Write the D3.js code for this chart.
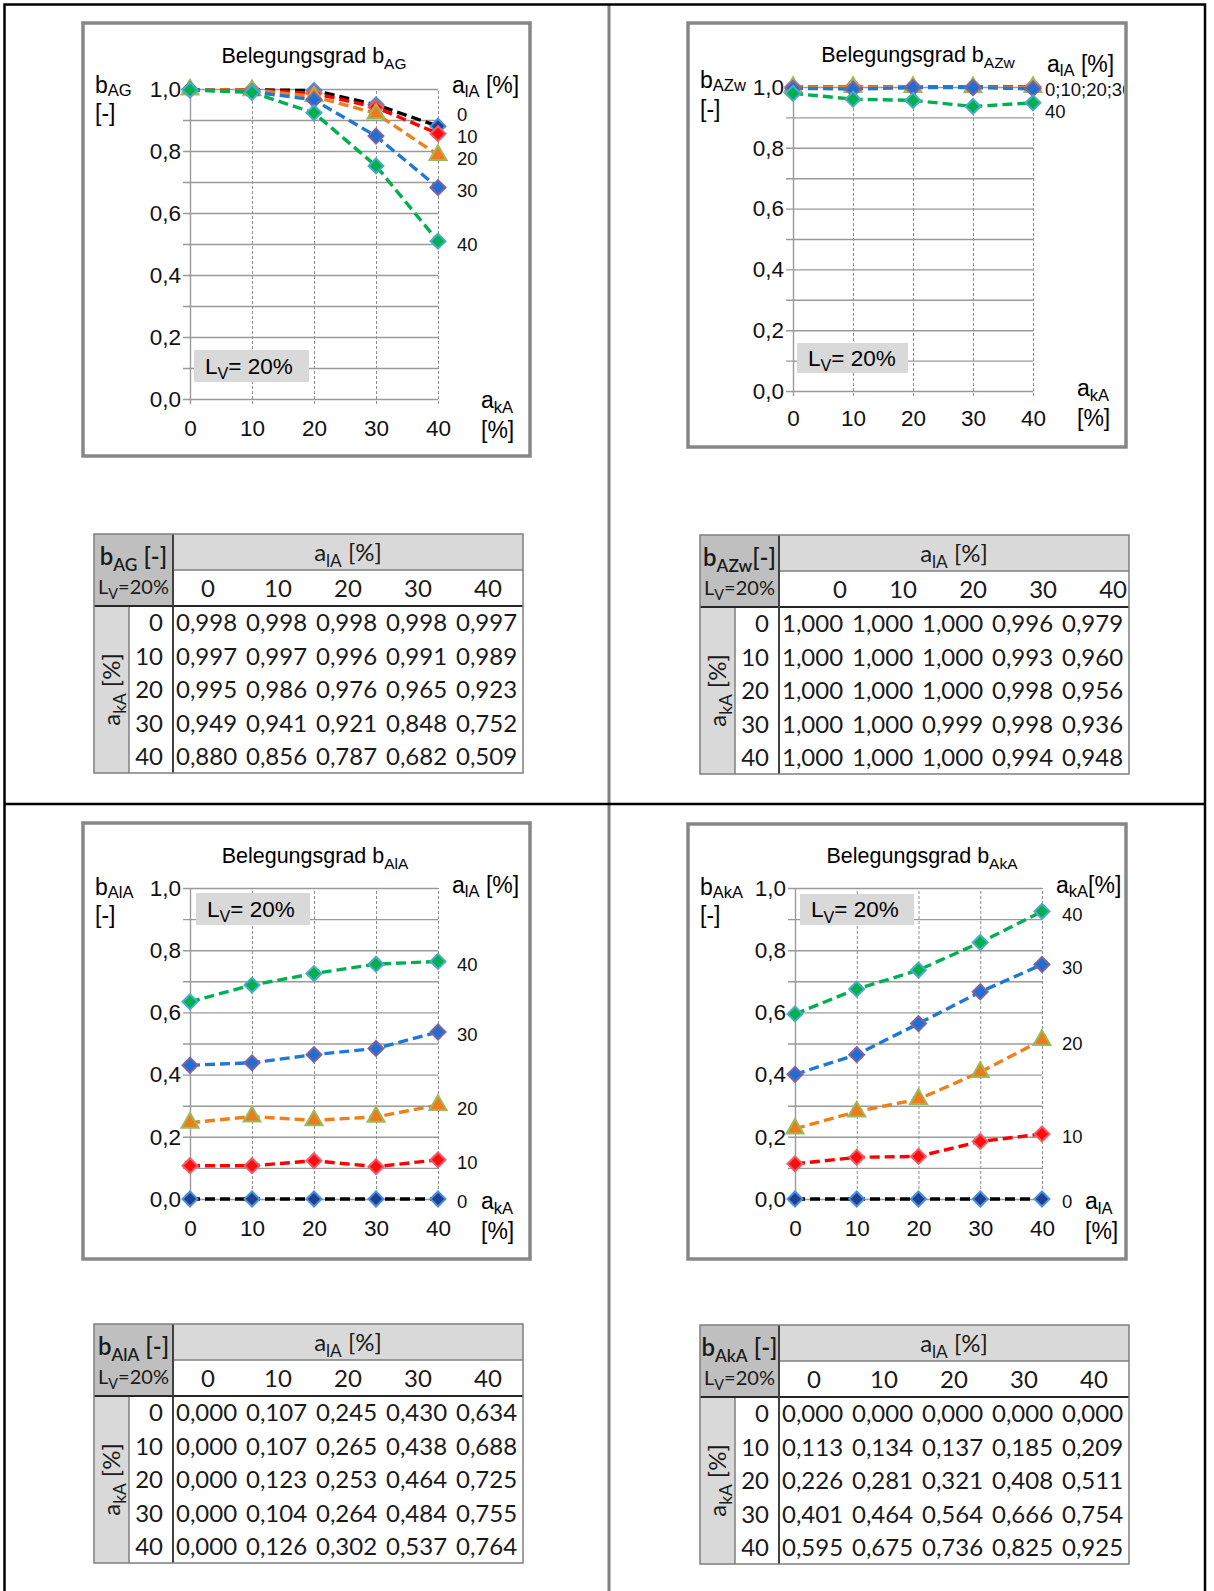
<!DOCTYPE html>
<html>
<head>
<meta charset="utf-8">
<script src="https://cdn.jsdelivr.net/npm/d3@7"></script>
<style>
  html, body { margin: 0; padding: 0; background: #fff; }
  svg { display: block; }
</style>
</head>
<body>
<svg id="page" width="1214" height="1591"></svg>
<script>
// Anteilswerte a (in %) – used for both axes and as table headers
const levels = [0, 10, 20, 30, 40];
const yTicks = [0, 0.2, 0.4, 0.6, 0.8, 1.0];
const yGrid = [0, 0.1, 0.2, 0.3, 0.4, 0.5, 0.6, 0.7, 0.8, 0.9, 1.0];

// Belegungsgrade, rows = a_kA, columns = a_lA (L_V = 20 %)
const bAG = [
  [0.998, 0.998, 0.998, 0.998, 0.997],
  [0.997, 0.997, 0.996, 0.991, 0.989],
  [0.995, 0.986, 0.976, 0.965, 0.923],
  [0.949, 0.941, 0.921, 0.848, 0.752],
  [0.880, 0.856, 0.787, 0.682, 0.509]
];
const bAZw = [
  [1.000, 1.000, 1.000, 0.996, 0.979],
  [1.000, 1.000, 1.000, 0.993, 0.960],
  [1.000, 1.000, 1.000, 0.998, 0.956],
  [1.000, 1.000, 0.999, 0.998, 0.936],
  [1.000, 1.000, 1.000, 0.994, 0.948]
];
const bAlA = [
  [0.000, 0.107, 0.245, 0.430, 0.634],
  [0.000, 0.107, 0.265, 0.438, 0.688],
  [0.000, 0.123, 0.253, 0.464, 0.725],
  [0.000, 0.104, 0.264, 0.484, 0.755],
  [0.000, 0.126, 0.302, 0.537, 0.764]
];
const bAkA = [
  [0.000, 0.000, 0.000, 0.000, 0.000],
  [0.113, 0.134, 0.137, 0.185, 0.209],
  [0.226, 0.281, 0.321, 0.408, 0.511],
  [0.401, 0.464, 0.564, 0.666, 0.754],
  [0.595, 0.675, 0.736, 0.825, 0.925]
];

// one style per series (a = 0, 10, 20, 30, 40 %)
const seriesStyle = [
  { line: "#000000", fill: "#1f3f95", stroke: "#4a90d9", shape: "diamond" },
  { line: "#ff0000", fill: "#ff0d0d", stroke: "#e8606a", shape: "diamond" },
  { line: "#f07f1a", fill: "#ee7a1c", stroke: "#9bbb59", shape: "triangle" },
  { line: "#1f78d6", fill: "#1f6fd2", stroke: "#8064a2", shape: "diamond" },
  { line: "#00b050", fill: "#00b050", stroke: "#4bacc6", shape: "diamond" }
];

const CHART_FONT = "'Liberation Sans', Arial, Helvetica, sans-serif";
const TABLE_FONT = "Lato, 'Open Sans', sans-serif";
const fmt3 = v => d3.format(".3f")(v).replace(".", ",");
const fmt1 = v => d3.format(".1f")(v).replace(".", ",");

const svg = d3.select("#page");

// text with subscripts: parts are strings or [subscriptString]
function rich(parent, x, y, parts, size, opts = {}) {
  const t = parent.append("text")
    .attr("x", x).attr("y", y)
    .attr("font-size", size)
    .attr("font-family", opts.family || CHART_FONT)
    .attr("text-anchor", opts.anchor || "start")
    .attr("fill", opts.fill || "#000");
  if (opts.weight) t.attr("font-weight", opts.weight);
  const lower = opts.subShift != null ? opts.subShift : 0.26;
  let shift = 0;
  parts.forEach(p => {
    const isSub = Array.isArray(p);
    const target = isSub ? size * lower : 0;
    const ts = t.append("tspan").text(isSub ? p[0] : p).attr("dy", target - shift);
    if (isSub) ts.attr("font-size", size * 0.72);
    shift = target;
  });
  return t;
}

// page frame
svg.append("rect").attr("width", 1214).attr("height", 1591).attr("fill", "#fff");
svg.append("line").attr("x1", 609).attr("x2", 609).attr("y1", 4).attr("y2", 1591)
  .attr("stroke", "#808080").attr("stroke-width", 3);
svg.append("line").attr("x1", 4).attr("x2", 1205).attr("y1", 804).attr("y2", 804)
  .attr("stroke", "#000").attr("stroke-width", 2.5);
svg.append("rect").attr("x", 4.5).attr("y", 4.5).attr("width", 1200.5).attr("height", 1700)
  .attr("fill", "none").attr("stroke", "#000").attr("stroke-width", 2.5);

const charts = [
  { id: "ag", matrix: bAG, byRow: false, sym: "AG", legSym: "lA", xSym: "kA",
    box: [83, 23, 530, 456], x0: 190, x1: 438, yTop: 89, yBot: 399, xPad: 22,
    titleX: 314, titleY: 63, yLabX: 95, yLabY: [93, 121], legX: 452, legY: 93, legSep: " [%]",
    endX: 457, groups: [[0], [1], [2], [3], [4]],
    xLabX: 481, xLabY: [408, 438], lv: [194, 350, 115, 32] },
  { id: "azw", matrix: bAZw, byRow: false, sym: "AZw", legSym: "lA", xSym: "kA",
    box: [688, 23, 1126, 447], x0: 793, x1: 1033, yTop: 87, yBot: 391, xPad: 20,
    titleX: 918, titleY: 62, yLabX: 700, yLabY: [88, 117], legX: 1047, legY: 72, legSep: " [%]",
    endX: 1045, groups: [[0, 1, 2, 3], [4]],
    xLabX: 1077, xLabY: [396, 426], lv: [797, 343, 111, 30] },
  { id: "ala", matrix: bAlA, byRow: false, sym: "AlA", legSym: "lA", xSym: "kA",
    box: [83, 823, 530, 1259], x0: 190, x1: 438, yTop: 888, yBot: 1199, xPad: 22,
    titleX: 315, titleY: 863, yLabX: 95, yLabY: [895, 923], legX: 452, legY: 893, legSep: " [%]",
    endX: 457, groups: [[0], [1], [2], [3], [4]],
    xLabX: 481, xLabY: [1209, 1239], lv: [196, 893, 114, 32] },
  { id: "aka", matrix: bAkA, byRow: true, sym: "AkA", legSym: "kA", xSym: "lA",
    box: [688, 824, 1126, 1259], x0: 795, x1: 1042, yTop: 888, yBot: 1199, xPad: 22,
    titleX: 922, titleY: 863, yLabX: 700, yLabY: [895, 923], legX: 1056, legY: 893, legSep: "[%]",
    endX: 1062, groups: [[0], [1], [2], [3], [4]],
    xLabX: 1085, xLabY: [1209, 1239], lv: [800, 894, 114, 31] }
];

function seriesValues(c, k) {
  return c.byRow ? c.matrix[k] : c.matrix.map(r => r[k]);
}

function placeLabels(items, yMin, gap) {
  const s = items.slice().sort((a, b) => b.y - a.y);
  for (let i = 1; i < s.length; i++) if (s[i - 1].y - s[i].y < gap) s[i].y = s[i - 1].y - gap;
  const top = s[s.length - 1];
  if (top.y < yMin) top.y = yMin;
  for (let i = s.length - 2; i >= 0; i--) if (s[i].y - s[i + 1].y < gap) s[i].y = s[i + 1].y + gap;
  return s;
}

function drawChart(c) {
  const [bx0, by0, bx1, by1] = c.box;
  svg.append("rect").attr("x", bx0).attr("y", by0).attr("width", bx1 - bx0).attr("height", by1 - by0)
    .attr("fill", "#fff").attr("stroke", "#878787").attr("stroke-width", 3.5);
  svg.append("clipPath").attr("id", "clip-" + c.id).append("rect")
    .attr("x", bx0 + 2).attr("y", by0 + 2).attr("width", bx1 - bx0 - 4).attr("height", by1 - by0 - 4);
  const g = svg.append("g").attr("clip-path", `url(#clip-${c.id})`);

  const x = d3.scaleLinear().domain([0, 40]).range([c.x0, c.x1]);
  const y = d3.scaleLinear().domain([0, 1]).range([c.yBot, c.yTop]);
  const plotW = c.x1 - c.x0, plotH = c.yBot - c.yTop;

  // horizontal grid, with short ticks left of the axis
  g.append("g").attr("transform", `translate(${c.x0},0)`)
    .call(d3.axisLeft(y).tickValues(yGrid).tickSize(-plotW).tickFormat(""))
    .call(a => {
      a.select(".domain").remove();
      a.selectAll("line").attr("x1", -7).attr("stroke", "#9a9a9a").attr("stroke-width", 1.4);
    });
  // vertical grid (dashed), value axis solid
  g.append("g").attr("transform", `translate(0,${c.yBot})`)
    .call(d3.axisBottom(x).tickValues(levels).tickSize(-plotH).tickFormat(""))
    .call(a => {
      a.select(".domain").remove();
      a.selectAll("line").attr("y1", 5).attr("stroke", "#8f8f8f").attr("stroke-width", 1)
        .attr("stroke-dasharray", "3,2");
      a.selectAll("line").filter(d => d === 0).attr("stroke-dasharray", null)
        .attr("stroke", "#9a9a9a").attr("stroke-width", 1.4);
    });

  // tick labels
  g.append("g").attr("transform", `translate(${c.x0},0)`)
    .call(d3.axisLeft(y).tickValues(yTicks).tickSize(0).tickPadding(9).tickFormat(fmt1))
    .call(a => {
      a.select(".domain").remove();
      a.attr("font-family", CHART_FONT).attr("font-size", 22.5);
      a.selectAll("text").attr("fill", "#111");
    });
  g.append("g").attr("transform", `translate(0,${c.yBot})`)
    .call(d3.axisBottom(x).tickValues(levels).tickSize(0).tickPadding(c.xPad - 1).tickFormat(d => d))
    .call(a => {
      a.select(".domain").remove();
      a.attr("font-family", CHART_FONT).attr("font-size", 22.5);
      a.selectAll("text").attr("fill", "#111");
    });

  // L_V box
  const [lx, ly, lw, lh] = c.lv;
  g.append("rect").attr("x", lx).attr("y", ly).attr("width", lw).attr("height", lh).attr("fill", "#d9d9d9");
  rich(g, lx + 11, ly + lh / 2 + 7.5, ["L", ["V"], "= 20%"], 22.5);

  // series
  const line = d3.line().x((d, i) => x(levels[i])).y(d => y(d));
  const diamond = d3.symbol().type(d3.symbolSquare).size(112)();
  const triangle = d3.symbol().type(d3.symbolTriangle).size(125)();
  levels.forEach((lev, k) => {
    const st = seriesStyle[k];
    const vals = seriesValues(c, k);
    const sg = g.append("g");
    sg.append("path").attr("d", line(vals)).attr("fill", "none")
      .attr("stroke", st.line).attr("stroke-width", 3.4).attr("stroke-dasharray", "10,5");
    sg.selectAll("path.mk").data(vals).join("path").attr("class", "mk")
      .attr("d", st.shape === "triangle" ? triangle : diamond)
      .attr("transform", (d, i) => `translate(${x(levels[i])},${y(d)})` + (st.shape === "triangle" ? "" : " rotate(45)"))
      .attr("fill", st.fill).attr("stroke", st.stroke).attr("stroke-width", 2);
  });

  // title and axis names
  rich(g, c.titleX, c.titleY, ["Belegungsgrad b", [c.sym]], 21.5, { anchor: "middle" });
  rich(g, c.yLabX, c.yLabY[0], ["b", [c.sym]], 23, { subShift: 0.15 });
  rich(g, c.yLabX, c.yLabY[1], ["[-]"], 23);
  rich(g, c.legX, c.legY, ["a", [c.legSym], c.legSep], 23, { subShift: 0.18 });
  rich(g, c.xLabX, c.xLabY[0], ["a", [c.xSym]], 23, { subShift: 0.2 });
  rich(g, c.xLabX, c.xLabY[1], ["[%]"], 23);

  // series names at the right end
  const items = c.groups.map(grp => ({
    text: grp.map(k => levels[k]).join(";"),
    y: y(d3.max(grp, k => seriesValues(c, k)[levels.length - 1])) + 3
  }));
  placeLabels(items, y(1) + 3, 22).forEach(it => {
    g.append("text").attr("x", c.endX).attr("y", it.y).attr("dy", "0.35em")
      .attr("font-family", CHART_FONT).attr("font-size", 18.5).attr("fill", "#111")
      .text(it.text);
  });
}

charts.forEach(drawChart);

// value tables
const tables = [
  { matrix: bAG, sym: "AG", unit: " [-]", x: 94, y: 534, headAlign: "middle" },
  { matrix: bAZw, sym: "AZw", unit: "[-]", x: 700, y: 535, headAlign: "end" },
  { matrix: bAlA, sym: "AlA", unit: " [-]", x: 94, y: 1324, headAlign: "middle" },
  { matrix: bAkA, sym: "AkA", unit: " [-]", x: 700, y: 1325, headAlign: "middle" }
];

function drawTable(t) {
  const wOuter = 35, wInner = 44, wCol = 70, h1 = 36, h2 = 36, hRow = 33.4;
  const FS = 24;
  const L = t.x, T = t.y;
  const dataX = L + wOuter + wInner, R = dataX + wCol * levels.length;
  const bodyY = T + h1 + h2, B = bodyY + hRow * levels.length;
  const col = d3.scaleBand().domain(levels).range([dataX, R]);
  const row = d3.scaleBand().domain(levels).range([bodyY, B]);
  const g = svg.append("g");

  g.append("rect").attr("x", L).attr("y", T).attr("width", dataX - L).attr("height", h1 + h2).attr("fill", "#bfbfbf");
  g.append("rect").attr("x", dataX).attr("y", T).attr("width", R - dataX).attr("height", h1).attr("fill", "#d9d9d9");
  g.append("rect").attr("x", L).attr("y", bodyY).attr("width", wOuter).attr("height", B - bodyY).attr("fill", "#d9d9d9");

  const ln = (x1, y1, x2, y2, c, w) => g.append("line").attr("x1", x1).attr("y1", y1).attr("x2", x2).attr("y2", y2)
    .attr("stroke", c).attr("stroke-width", w);
  ln(dataX, T + h1, R, T + h1, "#7f7f7f", 1.5);
  ln(L + wOuter, bodyY, L + wOuter, B, "#7f7f7f", 1.5);
  ln(L, bodyY, R, bodyY, "#262626", 2);
  ln(dataX, T, dataX, B, "#404040", 2);
  g.append("rect").attr("x", L).attr("y", T).attr("width", R - L).attr("height", B - T)
    .attr("fill", "none").attr("stroke", "#7f7f7f").attr("stroke-width", 1.5);

  const opt = { family: TABLE_FONT, fill: "#1a1a1a" };
  rich(g, (L + dataX) / 2, T + 31, ["b", [t.sym], t.unit], FS, { ...opt, anchor: "middle", weight: 600 });
  rich(g, (L + dataX) / 2, T + h1 + 24, ["L", ["V"], "=20%"], 20, { ...opt, anchor: "middle" });
  rich(g, (dataX + R) / 2, T + 27, ["a", ["lA"], " [%]"], FS, { ...opt, anchor: "middle" });
  rich(g, 0, 0, ["a", ["kA"], " [%]"], FS, { ...opt, anchor: "middle" })
    .attr("transform", `translate(${L + wOuter / 2 + 8},${(bodyY + B) / 2}) rotate(-90)`);

  levels.forEach(lev => {
    const hx = t.headAlign === "end" ? col(lev) + wCol - 2 : col(lev) + wCol / 2;
    g.append("text").attr("x", hx).attr("y", T + h1 + h2 / 2).attr("dy", "0.36em")
      .attr("text-anchor", t.headAlign).attr("font-family", TABLE_FONT).attr("font-size", FS)
      .attr("fill", "#1a1a1a").text(lev);
    g.append("text").attr("x", dataX - 10).attr("y", row(lev) + hRow / 2).attr("dy", "0.36em")
      .attr("text-anchor", "end").attr("font-family", TABLE_FONT).attr("font-size", FS)
      .attr("fill", "#1a1a1a").text(lev);
  });
  t.matrix.forEach((r, i) => {
    r.forEach((v, j) => {
      g.append("text").attr("x", col(levels[j]) + 3).attr("y", row(levels[i]) + hRow / 2).attr("dy", "0.36em")
        .attr("font-family", TABLE_FONT).attr("font-size", FS).attr("fill", "#1a1a1a")
        .text(fmt3(v));
    });
  });
}

tables.forEach(drawTable);
</script>
</body>
</html>
